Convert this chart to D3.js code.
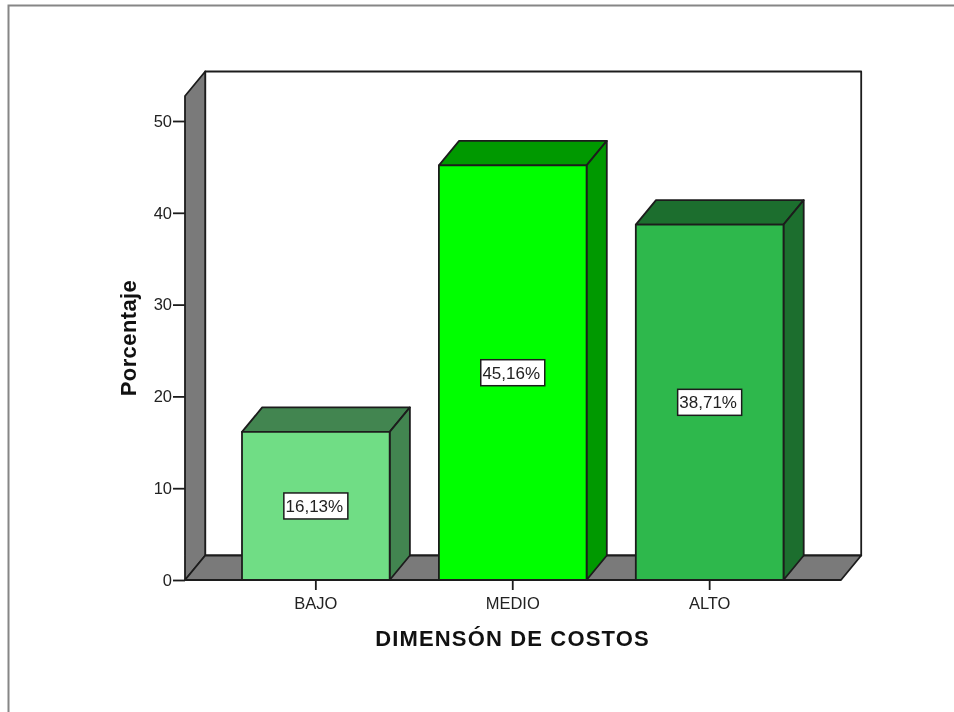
<!DOCTYPE html>
<html><head><meta charset="utf-8">
<script src="https://cdnjs.cloudflare.com/ajax/libs/d3/7.8.5/d3.min.js"></script>
<style>html,body{margin:0;padding:0;background:#fff;overflow:hidden}svg{display:block;filter:blur(0.35px)}text{font-family:"Liberation Sans",Arial,sans-serif}</style>
</head><body><svg id="c" width="954" height="712"></svg>
<script>
const categories = ["BAJO","MEDIO","ALTO"];
const values = [16.13,45.16,38.71];
const valueLabels = ["16,13%","45,16%","38,71%"];
const frontColors = ["#70DD85","#00FF00","#2EB84C"];
const sideColors = ["#428550","#009900","#1C6E2E"];
const yTicks = [0,10,20,30,40,50];
const xTitle = "DIMENSÓN DE COSTOS";
const yTitle = "Porcentaje";

const svg = d3.select("#c");
const ink = "#1c1c1c", wall = "#7a7a7a";
const y = d3.scaleLinear().domain([0,50]).range([580,121]);
const x = d3.scaleBand().domain(categories).range([242,783.5]).paddingInner(0.25).paddingOuter(0);
const plotL = 185, plotR = 841, dx = 20.2, dy = -24.5, plotT = 96;
const poly = (pts,fill) => svg.append("path")
  .attr("d", d3.line()(pts)+"Z").attr("fill",fill).attr("stroke",ink)
  .attr("stroke-width",1.8).attr("stroke-linejoin","round");

// outer frame
svg.append("path").attr("d","M8.5 712V5.5H954").attr("fill","none").attr("stroke","#868686").attr("stroke-width",2);

// 3D walls
poly([[plotL+dx,y(0)+dy],[plotR+dx,y(0)+dy],[plotR+dx,plotT+dy],[plotL+dx,plotT+dy]],"#fff");
poly([[plotL,y(0)],[plotL+dx,y(0)+dy],[plotL+dx,plotT+dy],[plotL,plotT]],wall);
poly([[plotL,y(0)],[plotR,y(0)],[plotR+dx,y(0)+dy],[plotL+dx,y(0)+dy]],wall);

// bars
categories.forEach((c,i)=>{
  const x0=x(c), x1=x0+x.bandwidth(), yt=y(values[i]), yb=y(0);
  poly([[x0,yt],[x1,yt],[x1+dx,yt+dy],[x0+dx,yt+dy]],sideColors[i]);
  poly([[x1,yb],[x1+dx,yb+dy],[x1+dx,yt+dy],[x1,yt]],sideColors[i]);
  poly([[x0,yb],[x1,yb],[x1,yt],[x0,yt]],frontColors[i]);
  const cx=(x0+x1)/2, cy=(yt+yb)/2;
  svg.append("rect").attr("x",cx-32).attr("y",cy-13).attr("width",64).attr("height",26)
    .attr("fill","#fff").attr("stroke",ink).attr("stroke-width",1.5);
  svg.append("text").attr("x",cx-1.5).attr("y",cy+6).attr("text-anchor","middle")
    .attr("font-size",17).attr("fill","#222").text(valueLabels[i]);
});

// axes
const gy = svg.append("g").attr("transform",`translate(${plotL},0)`)
  .call(d3.axisLeft(y).tickValues(yTicks).tickSize(12).tickPadding(1));
const gx = svg.append("g").attr("transform",`translate(0,${y(0)})`)
  .call(d3.axisBottom(x).tickSize(10).tickPadding(7));
[gy,gx].forEach(g=>{
  g.select(".domain").remove();
  g.selectAll("line").attr("stroke",ink).attr("stroke-width",1.8);
  g.selectAll("text").attr("font-size",16.5).attr("fill","#222").attr("font-family",'"Liberation Sans",Arial,sans-serif');
});
svg.append("text").attr("x",512.5).attr("y",645.5).attr("text-anchor","middle")
  .attr("font-size",22).attr("letter-spacing",1.15).attr("font-weight","bold").attr("fill","#111").text(xTitle);
svg.append("text").attr("transform","translate(136,338) rotate(-90)").attr("text-anchor","middle")
  .attr("font-size",22).attr("letter-spacing",0.4).attr("font-weight","bold").attr("fill","#111").text(yTitle);
</script></body></html>
